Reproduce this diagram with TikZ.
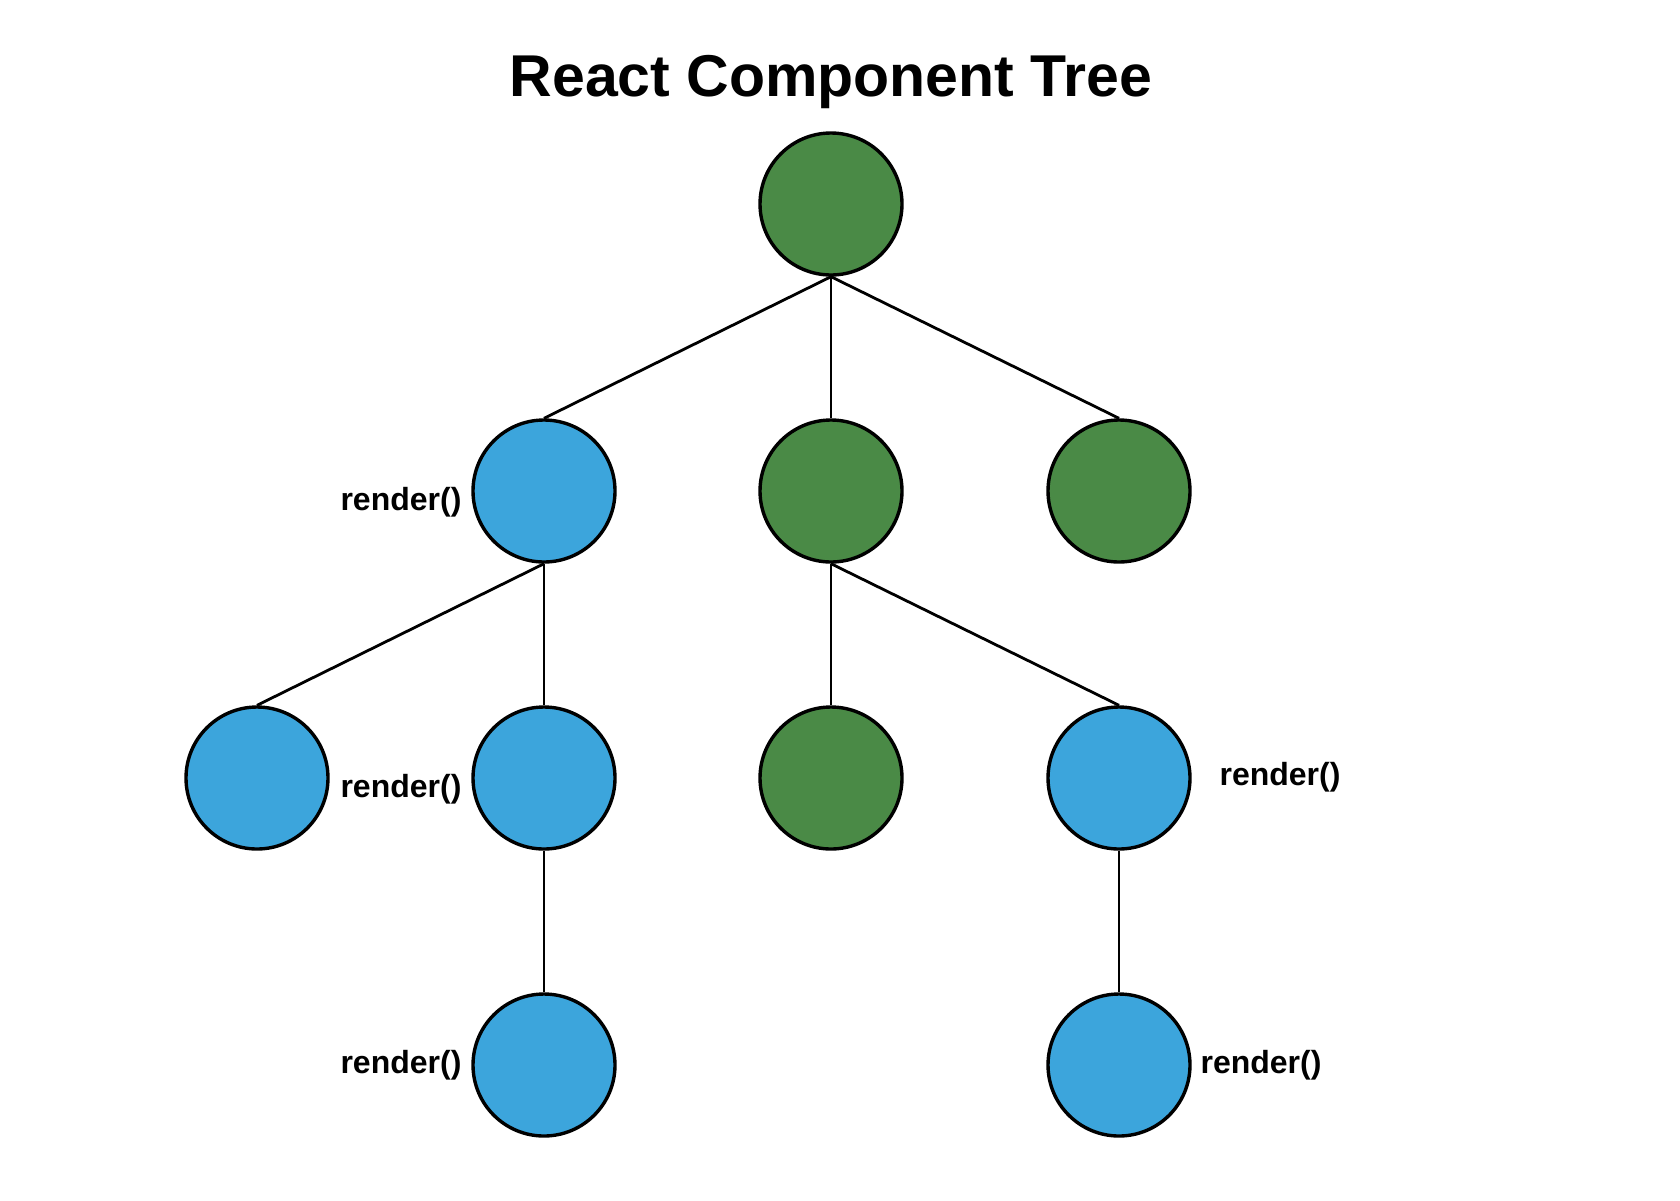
\documentclass[tikz,border=0pt]{standalone}
\usepackage{fontspec}
\setmainfont{Liberation Sans}
\usepackage{tikz}

\definecolor{compgreen}{HTML}{4A8A46}
\definecolor{compblue}{HTML}{3CA5DC}

\tikzset{
  comp/.style={circle, draw=black, line width=1.7pt, inner sep=0pt, minimum size=71pt},
  static/.style={comp, fill=compgreen},
  rerender/.style={comp, fill=compblue},
  edge/.style={line width=1.4pt},
  rlabel/.style={font=\bfseries\fontsize{16}{18}\selectfont}
}

\begin{document}
\begin{tikzpicture}[x=0.5pt, y=-0.5pt]
			\useasboundingbox (0,0) rectangle (1680,1200);
			\node[font=\bfseries\fontsize{29.5}{34}\selectfont] (title) at (831,82) {React Component Tree};
			% tree
			\node[static] (root) at (831,204) {};
			\node[rerender] (a) at (544,491) {};
			\node[static] (b) at (831,491) {};
			\node[static] (c) at (1119,491) {};
			\node[rerender] (a1) at (257,778) {};
			\node[rerender] (a2) at (544,778) {};
			\node[static] (b1) at (831,778) {};
			\node[rerender] (b2) at (1119,778) {};
			\node[rerender] (a21) at (544,1065) {};
			\node[rerender] (b21) at (1119,1065) {};
			\draw[edge] (root.south)--(a.north);
			\draw[edge] (root.south)--(b.north);
			\draw[edge] (root.south)--(c.north);
			\draw[edge] (a.south)--(a1.north);
			\draw[edge] (a.south)--(a2.north);
			\draw[edge] (b.south)--(b1.north);
			\draw[edge] (b.south)--(b2.north);
			\draw[edge] (a2.south)--(a21.north);
			\draw[edge] (b2.south)--(b21.north);
			% labels
			\node[rlabel] (la) at (401,502) {render()};
			\node[rlabel] (la2) at (401,789) {render()};
			\node[rlabel] (lb2) at (1280,777) {render()};
			\node[rlabel] (la21) at (401,1065) {render()};
			\node[rlabel] (lb21) at (1261,1065) {render()};
		\end{tikzpicture}
\end{document}
